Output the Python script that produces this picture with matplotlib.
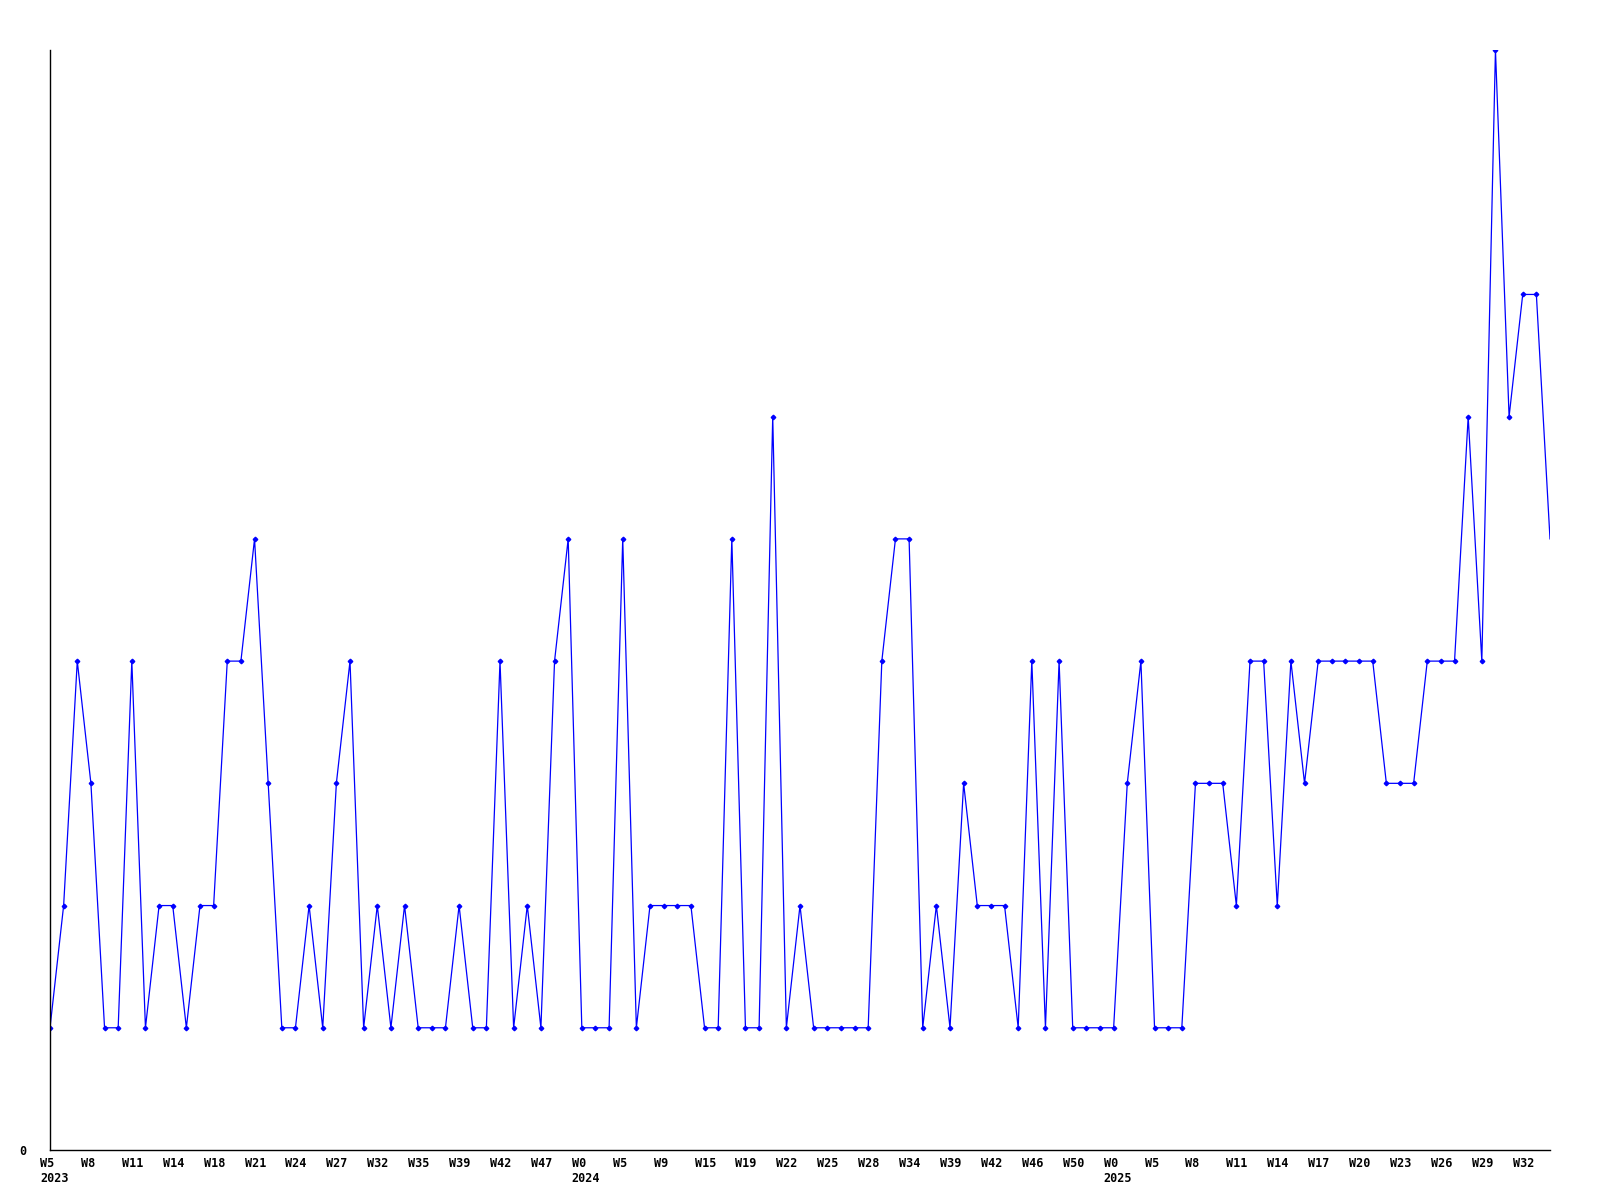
import numpy as np
import matplotlib.pyplot as plt
from matplotlib.transforms import ScaledTranslation

# weekly counts, one point per reported week
values = [1, 2, 4, 3, 1, 1, 4, 1, 2, 2,
          1, 2, 2, 4, 4, 5, 3, 1, 1, 2,
          1, 3, 4, 1, 2, 1, 2, 1, 1, 1,
          2, 1, 1, 4, 1, 2, 1, 4, 5, 1,
          1, 1, 5, 1, 2, 2, 2, 2, 1, 1,
          5, 1, 1, 6, 1, 2, 1, 1, 1, 1,
          1, 4, 5, 5, 1, 2, 1, 3, 2, 2,
          2, 1, 4, 1, 4, 1, 1, 1, 1, 3,
          4, 1, 1, 1, 3, 3, 3, 2, 4, 4,
          2, 4, 3, 4, 4, 4, 4, 4, 3, 3,
          3, 4, 4, 4, 6, 4, 9, 6, 7, 7,
          5]

# a label every third point
week_labels = ["W5", "W8", "W11", "W14", "W18", "W21", "W24", "W27", "W32",
               "W35", "W39", "W42", "W47", "W0", "W5", "W9", "W15", "W19",
               "W22", "W25", "W28", "W34", "W39", "W42", "W46", "W50", "W0",
               "W5", "W8", "W11", "W14", "W17", "W20", "W23", "W26", "W29",
               "W32"]
year_labels = {0: "2023", 13: "2024", 26: "2025"}

x = np.arange(len(values))

fig = plt.figure(figsize=(16, 12), dpi=100)
ax = fig.add_axes([50/1600, 50/1200, 1500/1600, 1100/1200])

ax.plot(x, values, color="#0000ff", linewidth=0.9, marker="D", markersize=2.3,
        markevery=slice(0, len(values) - 1))

ax.set_xlim(0, len(values) - 1)
ax.set_ylim(0, 9)

for s in ["top", "right"]:
    ax.spines[s].set_visible(False)
for s in ["left", "bottom"]:
    ax.spines[s].set_linewidth(1.0)

labels = []
for i, w in enumerate(week_labels):
    if i in year_labels:
        labels.append(w + "\n" + year_labels[i])
    else:
        labels.append(w)

ax.set_xticks(x[::3][:len(week_labels)])
ax.set_xticklabels(labels, fontfamily="DejaVu Sans Mono", fontweight="bold",
                   fontsize=8.5, ha="left", va="top", linespacing=1.2)
ax.tick_params(axis="x", length=0, pad=5)
shift = ScaledTranslation(-10/100, 0, fig.dpi_scale_trans)
for lab in ax.get_xticklabels():
    lab.set_transform(lab.get_transform() + shift)

ax.set_yticks([0])
ax.set_yticklabels(["0"], fontfamily="DejaVu Sans Mono", fontweight="bold",
                   fontsize=8.5)
ax.tick_params(axis="y", length=0, pad=17)

fig.savefig("out.png", dpi=100)
